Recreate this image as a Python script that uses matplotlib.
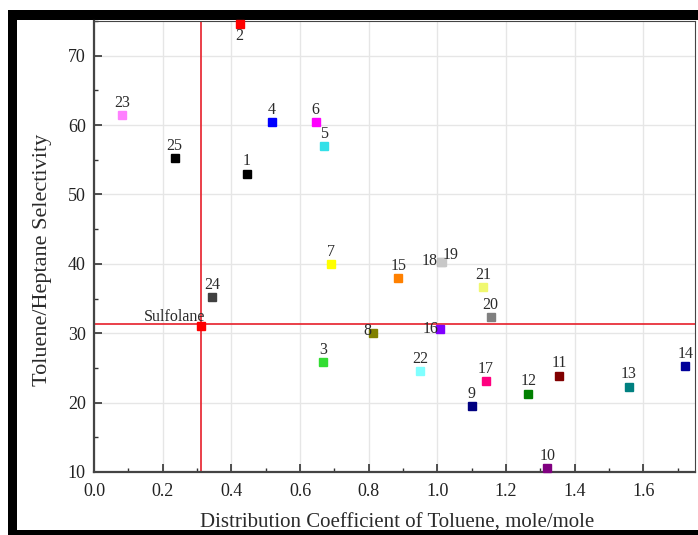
import matplotlib
matplotlib.use("Agg")
import matplotlib.pyplot as plt
from matplotlib.patches import Rectangle
from matplotlib.ticker import MultipleLocator

plt.rcParams['font.family'] = ['Liberation Serif', 'DejaVu Serif']

# solvent data
labels = ['1', '2', '3', '4', '5', '6', '7', '8', '9', '10', '11', '12', '13',
          '14', '15', '16', '17', '18', '19', '20', '21', '22', '23', '24', '25',
          'Sulfolane']
dist_coef = [0.445, 0.424, 0.667, 0.517, 0.669, 0.645, 0.689, 0.812, 1.100,
             1.320, 1.355, 1.265, 1.558, 1.722, 0.886, 1.008, 1.140, 1.010,
             1.014, 1.155, 1.134, 0.950, 0.081, 0.343, 0.235, 0.313]
selectivity = [53.0, 74.6, 25.8, 60.4, 57.0, 60.4, 40.0, 30.1, 19.5, 10.6,
               23.9, 21.3, 22.3, 25.3, 37.9, 30.6, 23.1, 40.2, 40.3, 32.3,
               36.6, 24.6, 61.4, 35.2, 55.3, 31.0]
colors = ['#000000', '#ff0000', '#33dd33', '#0000ff', '#33e0e8', '#ff00ff',
          '#ffff00', '#808000', '#000080', '#800080', '#800000', '#008000',
          '#008080', '#000099', '#ff8000', '#8000ff', '#ff0080', '#c0c0c0',
          '#c8c8c8', '#808080', '#f0f870', '#80ffff', '#ff80ff', '#404040',
          '#000000', '#ff0000']

# sulfolane reference lines
ref_x = 0.312
ref_y = 31.3

# label placement (offset in points, ha, va); default is centered above
label_pos = {
    '2': ((0, -3), 'center', 'top'),
    '8': ((-1, -5), 'right', 'bottom'),
    '16': ((-1, -6), 'right', 'bottom'),
    '18': ((-2, -5), 'right', 'bottom'),
    '19': ((0, -1), 'left', 'bottom'),
    'Sulfolane': ((3, 1), 'right', 'bottom'),
}

fig = plt.figure(figsize=(6.98, 5.35), dpi=100)
# black frame around the picture
fig.add_artist(Rectangle((8 / 698, 0), 1, 525 / 535, transform=fig.transFigure,
                         facecolor='black', edgecolor='none', zorder=-2))
fig.add_artist(Rectangle((17 / 698, 5 / 535), 1, 510 / 535, transform=fig.transFigure,
                         facecolor='white', edgecolor='none', zorder=-1))

ax = fig.add_axes([94 / 698, 63 / 535, 601 / 698, 451 / 535])

ax.axvline(ref_x, color='#e8303a', lw=1.3, zorder=2)
ax.axhline(ref_y, color='#e8303a', lw=1.3, zorder=2)

for x, y, c, lab in zip(dist_coef, selectivity, colors, labels):
    ax.plot(x, y, 's', color=c, markersize=6.4, zorder=3, clip_on=False)
    off, ha, va = label_pos.get(lab, ((0, 3), 'center', 'bottom'))
    ax.annotate(lab, (x, y), xytext=off, textcoords='offset points',
                ha=ha, va=va, fontsize=11.5, color='#2a2a2a', zorder=4)

ax.set_xlim(0, 1.75)
ax.set_ylim(10, 75)
ax.xaxis.set_major_locator(MultipleLocator(0.2))
ax.xaxis.set_minor_locator(MultipleLocator(0.1))
ax.yaxis.set_major_locator(MultipleLocator(10))
ax.yaxis.set_minor_locator(MultipleLocator(5))
ax.xaxis.set_major_formatter(matplotlib.ticker.FormatStrFormatter('%.1f'))

ax.grid(True, which='major', color='#e6e6e6', lw=1.0, zorder=0)
ax.tick_params(which='major', direction='in', length=6, width=1.2,
               labelsize=13, colors='#333333', labelcolor='#222222', pad=6)
ax.tick_params(axis='x', which='major', pad=8)
ax.tick_params(which='minor', direction='in', length=3, width=1.0, colors='#333333')
for sp in ax.spines.values():
    sp.set_color('#444444')
ax.spines['left'].set_linewidth(1.6)
ax.spines['bottom'].set_linewidth(1.6)
ax.spines['top'].set_linewidth(0.8)
ax.spines['right'].set_linewidth(0.8)

ax.set_xlabel('Distribution Coefficient of Toluene, mole/mole', fontsize=15,
              color='#2a2a2a')
ax.set_ylabel('Toluene/Heptane Selectivity', fontsize=16, color='#2a2a2a')
ax.xaxis.set_label_coords(0.505, -0.093)
ax.yaxis.set_label_coords(-0.07, 0.47)

fig.savefig('out.png', dpi=100, facecolor='white')
